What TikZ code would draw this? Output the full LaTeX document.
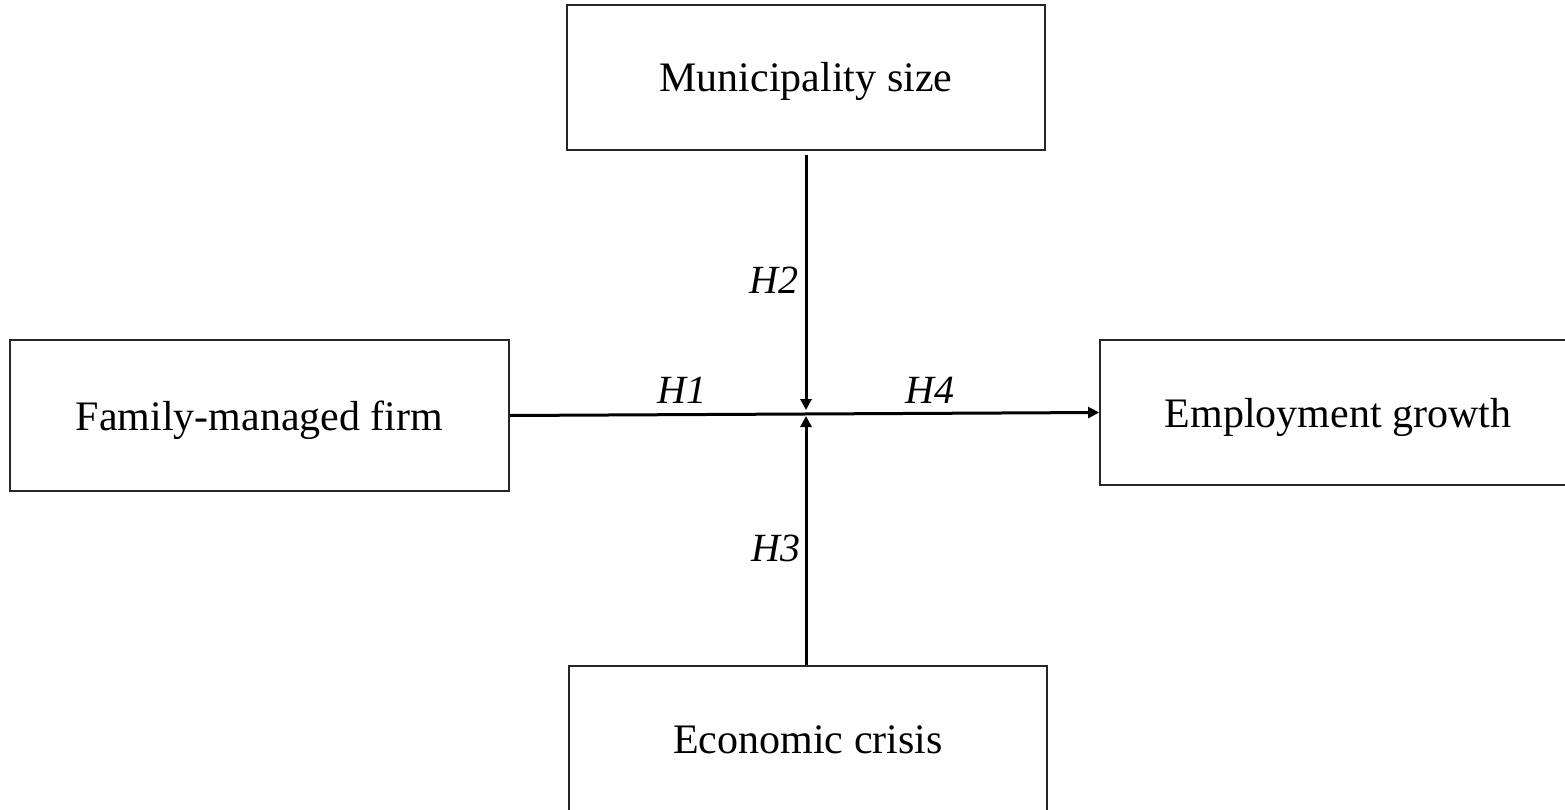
\documentclass[tikz,border=0pt]{standalone}
\usepackage{fontspec}
\setmainfont{Liberation Serif}
\usetikzlibrary{arrows.meta}
\begin{document}
\begin{tikzpicture}[x=1pt,y=-1pt,
  varbox/.style={draw=black!85,line width=1.8pt,minimum width=#1,inner sep=0pt,
    text height=29pt,text depth=0pt,
    font=\fontsize{42}{50}\selectfont},
  link/.style={line width=3pt,-{Triangle[length=11pt,width=11pt]}},
  hlab/.style={font=\fontsize{40}{48}\selectfont\itshape,inner sep=0pt}]
\useasboundingbox (0,0) rectangle (1565,810);
\fill[white] (0,0) rectangle (1565,810);
\node[varbox=478pt,minimum height=145pt] (muni) at (806,77.5) {Municipality size};
\node[varbox=499pt,minimum height=151pt] (fam) at (259.5,415.5) {Family-managed firm};
\node[varbox=476pt,minimum height=145pt] (emp) at (1338,412.5) {Employment growth};
\node[varbox=478pt,minimum height=145pt] (eco) at (808,738.5) {Economic crisis};
\coordinate (jt) at (806,410);
\coordinate (jb) at (806,416);
\draw[link] (fam.east) -- (emp.west);
\draw[link,shorten <=4pt] (muni.south -| jt) -- (jt);
\draw[link] (eco.north -| jb) -- (jb);
\node[hlab] (h1) at (682,390) {H1};
\node[hlab] (h4) at (930,390) {H4};
\node[hlab] (h2) at (774,280) {H2};
\node[hlab] (h3) at (776,548) {H3};
\end{tikzpicture}
\end{document}
